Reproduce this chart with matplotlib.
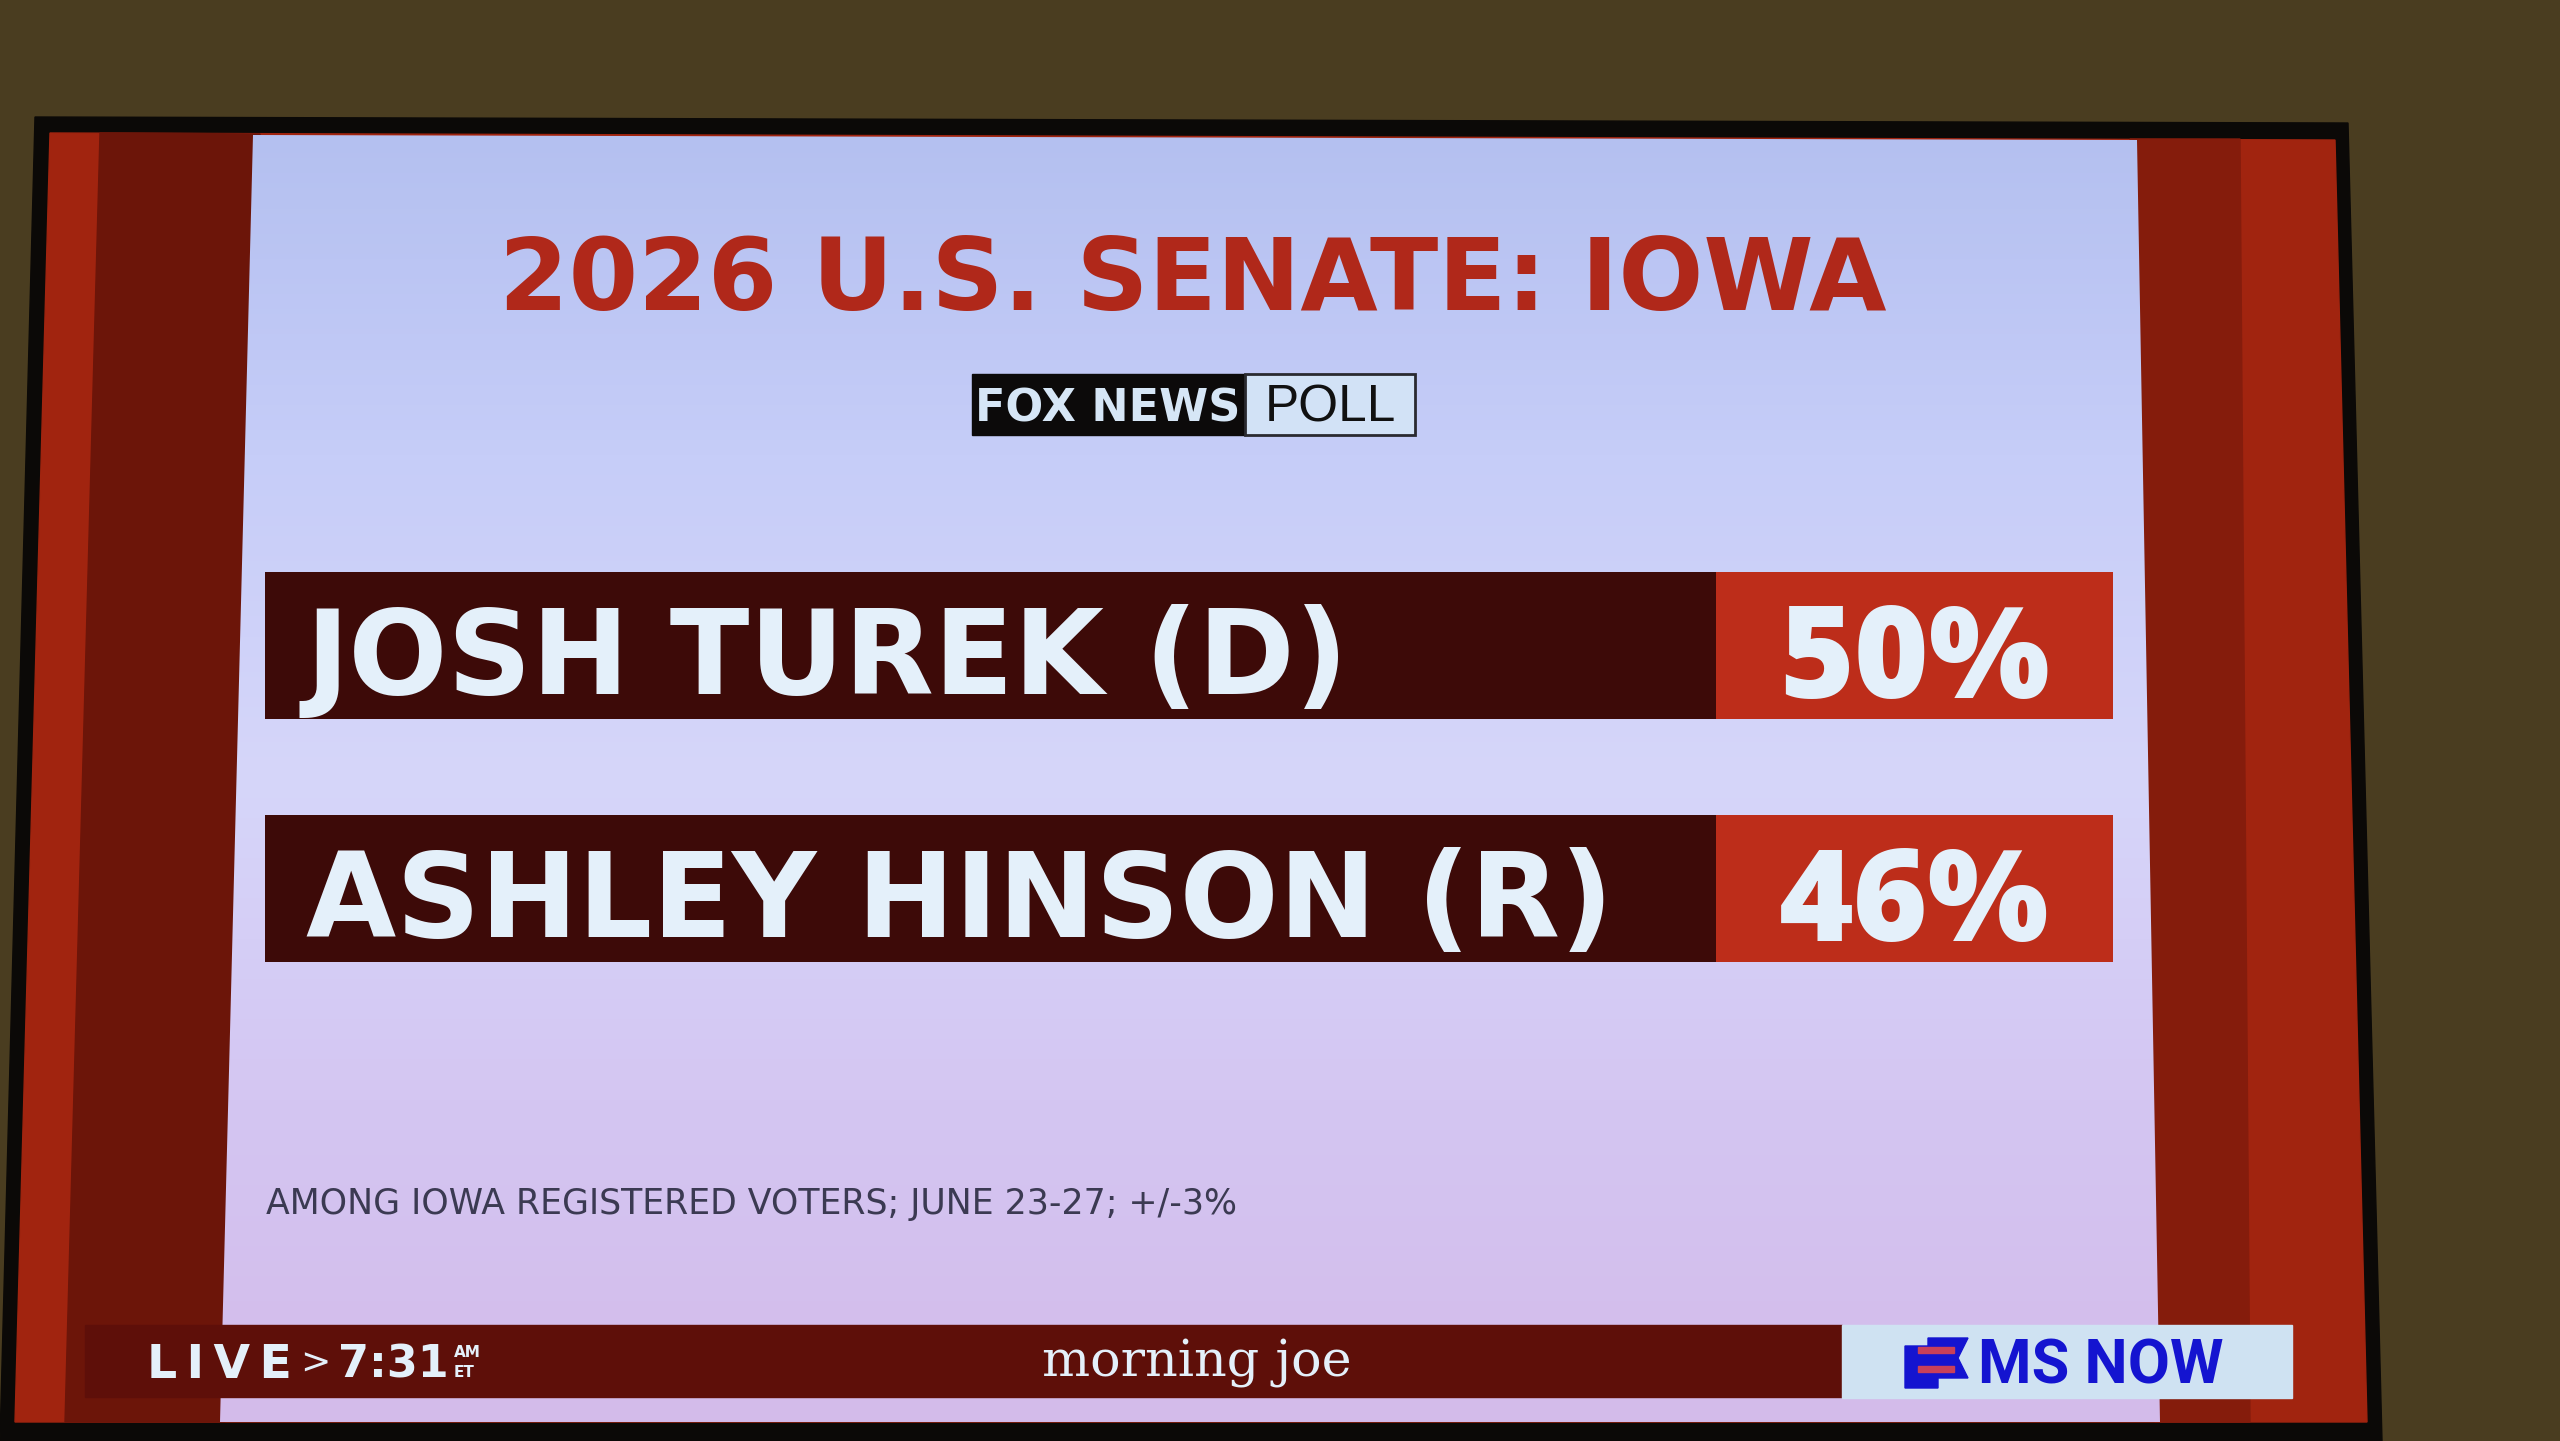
#----- importing modules -----
import numpy as np
import matplotlib.pyplot as plt
from matplotlib.patches import Polygon, Rectangle
from matplotlib.colors import LinearSegmentedColormap

#----- chart data -----
title = "2026 U.S. SENATE: IOWA"
candidates = ["JOSH TUREK (D)", "ASHLEY HINSON (R)"]
shares = [50, 46]
note = "AMONG IOWA REGISTERED VOTERS; JUNE 23-27; +/-3%"
clock = "7:31"
show_name = "morning joe"

W, H = 2560, 1441
light = '#e4f0fa'
wide_font = ['DejaVu Sans']
pct_font = ['Open Sans', 'DejaVu Sans']

fig = plt.figure(figsize=(W / 100, H / 100), dpi=100)
fig.patch.set_facecolor('#4a3d20')
ax = fig.add_axes([0, 0, 1, 1])
ax.axis('off')

#----- tv set and screen -----
ax.add_patch(Polygon([(35, 117), (2348, 123), (2382, 1441), (0, 1441)], color='#0b0907', zorder=1))
ax.add_patch(Polygon([(50, 133), (2335, 140), (2367, 1422), (15, 1422)], color='#a1240f', zorder=1))
# darker inner stripes either side of the panel
ax.add_patch(Polygon([(100, 133), (260, 134), (225, 1422), (65, 1422)], color='#6c1509', zorder=1))
ax.add_patch(Polygon([(2130, 139), (2240, 139), (2250, 1422), (2155, 1422)], color='#851c0c', zorder=1))

# light panel with a soft vertical gradient
grad = np.linspace(0, 1, 256).reshape(-1, 1)
cmap = LinearSegmentedColormap.from_list('panel', ['#b4c0f0', '#c6cdf8', '#d6d6fa', '#d4c6f2', '#d3bbea'])
img = ax.imshow(grad, extent=[215, 2165, 1422, 133], cmap=cmap, aspect='auto', zorder=2)
panel = Polygon([(253, 135), (2137, 140), (2160, 1422), (220, 1422)], facecolor='none', edgecolor='none')
ax.add_patch(panel)
img.set_clip_path(panel)

#----- title + fox news logo -----
ax.text(1193, 310, title, ha='center', va='baseline', fontsize=72, fontweight='bold',
        family=wide_font, color='#b0281a', zorder=5)
ax.add_patch(Rectangle((972, 374), 273, 61, color='#0c0a0a', zorder=4))
ax.add_patch(Rectangle((1245, 374), 170, 61, facecolor='#d2e2f6', edgecolor='#2a2a30', linewidth=2, zorder=4))
ax.text(1108, 422, "FOX NEWS", ha='center', va='baseline', fontsize=32, fontweight='heavy',
        family=['DejaVu Sans'], color='#d6e6f6', zorder=5)
ax.text(1330, 422, "POLL", ha='center', va='baseline', fontsize=37,
        family=['Liberation Sans', 'DejaVu Sans'], color='#111111', zorder=5)

#----- footnote -----
ax.text(266, 1214, note, ha='left', va='baseline', fontsize=25,
        family=['DejaVu Sans'], color='#3b3a52', zorder=5)

#----- lower third -----
ax.add_patch(Rectangle((85, 1325), 1757, 72, color='#5e0f09', zorder=6))
ax.text(147, 1378, "L\u2009I\u2009V\u2009E", ha='left', va='baseline', fontsize=34, fontweight='bold',
        family=['DejaVu Sans'], color=light, zorder=7)
ax.text(300, 1374, ">", ha='left', va='baseline', fontsize=26, family=['DejaVu Sans'], color=light, zorder=7)
ax.text(338, 1378, clock, ha='left', va='baseline', fontsize=32, fontweight='bold',
        family=['DejaVu Sans'], color=light, zorder=7)
ax.text(454, 1357, "AM", ha='left', va='baseline', fontsize=11, fontweight='bold', color=light, zorder=7)
ax.text(454, 1377, "ET", ha='left', va='baseline', fontsize=11, fontweight='bold', color=light, zorder=7)
ax.text(1197, 1377, show_name, ha='center', va='baseline', fontsize=36.5,
        family=['DejaVu Serif'], color=light, zorder=7)

# ms now badge
ax.add_patch(Rectangle((1842, 1325), 450, 73, color='#cfe2f2', zorder=6))
ax.add_patch(Polygon([(1928, 1338), (1968, 1338), (1958, 1358), (1968, 1378), (1938, 1378),
                      (1938, 1388), (1905, 1388), (1905, 1346), (1928, 1346)], color='#1414d0', zorder=7))
ax.add_patch(Rectangle((1918, 1347), 36, 6, color='#c8405a', zorder=8))
ax.add_patch(Rectangle((1918, 1366), 36, 6, color='#c8405a', zorder=8))
ax.text(1978, 1384, "MS NOW", ha='left', va='baseline', fontsize=44, fontweight='bold',
        family=['Roboto', 'DejaVu Sans'], color='#1414d0', zorder=7)

ax.set_xlim(0, W)
ax.set_ylim(H, 0)

#----- result bars -----
bx = fig.add_axes([265 / W, 1 - 962 / H, (2113 - 265) / W, 390 / H])
pos = np.arange(len(candidates))
bx.barh(pos, [100] * len(pos), height=0.605, color='#3d0a08')
bx.barh(pos, [21.5] * len(pos), left=78.5, height=0.605, color='#bd2d1a')
for i, (name, v) in enumerate(zip(candidates, shares)):
    bx.text(2.2, i + 0.2, name, ha='left', va='baseline', fontsize=84, fontweight='bold',
            family=wide_font, color=light)
    bx.text(89.25, i + 0.215, f"{v}%", ha='center', va='baseline', fontsize=92, fontweight='heavy',
            family=pct_font, color=light)
bx.set_xlim(0, 100)
bx.set_ylim(1.3025, -0.3025)
bx.axis('off')

fig.savefig('out.png', dpi=100, facecolor=fig.get_facecolor())
